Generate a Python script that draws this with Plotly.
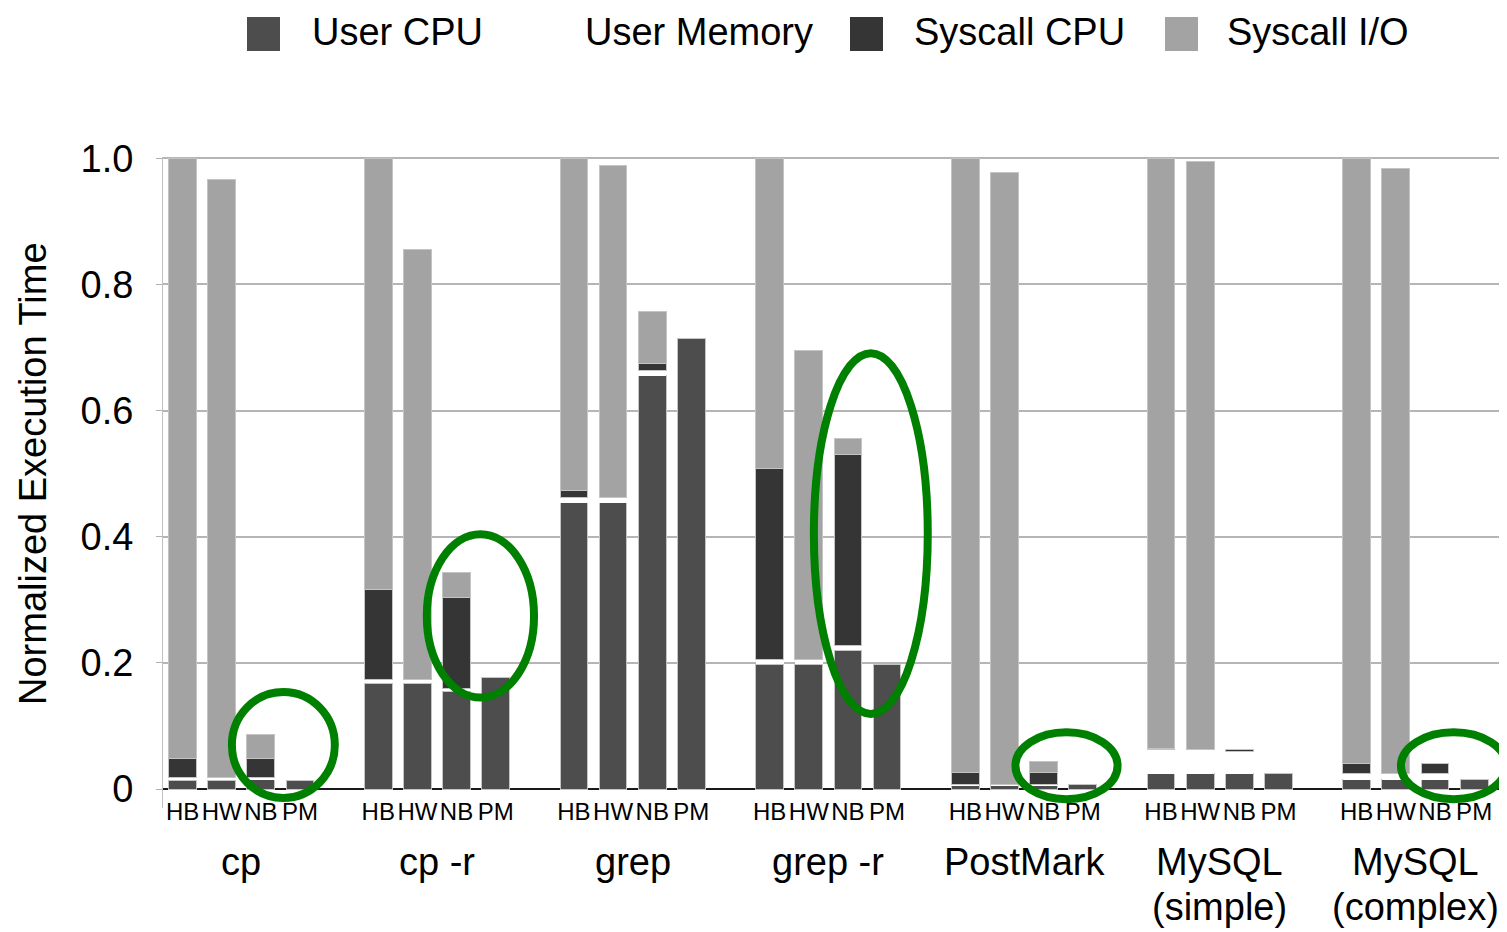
import plotly.graph_objects as go

groups = ["cp", "cp -r", "grep", "grep -r", "PostMark", "MySQL", "MySQL"]
group_sub = ["", "", "", "", "", "(simple)", "(complex)"]
configs = ["HB", "HW", "NB", "PM"]

# segment heights per group (HB, HW, NB, PM); None = segment not present
user_cpu = [
    [0.014, 0.014, 0.015, 0.013],
    [0.168, 0.168, 0.155, 0.177],
    [0.454, 0.454, 0.655, 0.714],
    [0.198, 0.198, 0.220, 0.198],
    [0.005, 0.005, 0.005, 0.008],
    [0.024, 0.024, 0.024, 0.024],
    [0.015, 0.015, 0.015, 0.015],
]
user_mem = [
    [0.004, 0.004, 0.003, None],
    [0.005, 0.005, 0.005, None],
    [0.009, 0.009, 0.009, None],
    [0.008, 0.008, 0.008, None],
    [0.003, 0.003, 0.003, None],
    [0.038, 0.038, 0.036, None],
    [0.010, 0.010, 0.010, None],
]
sys_cpu = [
    [0.030, None, 0.031, None],
    [0.143, None, 0.144, None],
    [0.010, None, 0.011, None],
    [0.302, None, 0.302, None],
    [0.018, None, 0.018, None],
    [0.003, None, 0.003, None],
    [0.016, None, 0.016, None],
]
sys_io = [
    [0.952, 0.949, 0.038, None],
    [0.684, 0.682, 0.040, None],
    [0.527, 0.525, 0.082, None],
    [0.492, 0.490, 0.026, None],
    [0.974, 0.970, 0.018, None],
    [0.935, 0.933, None, None],
    [0.959, 0.958, None, None],
]

# highlighted NB/PM regions: (group, x from, x to (relative to HB bar), y from, y to)
highlights = [
    (0, 1.26, 3.89, -0.014, 0.154),
    (1, 1.24, 3.98, 0.145, 0.404),
    (3, 1.13, 4.04, 0.119, 0.691),
    (4, 1.28, 3.89, -0.016, 0.090),
    (6, 1.13, 3.82, -0.016, 0.090),
]

FONT = "Liberation Sans, Arial, sans-serif"
W, H = 1507, 932
OFF = 8  # page body margin
ML, MR, MT, MB = 163 - OFF, OFF, 157 - OFF, 124 + OFF
SLOT = 5  # 4 bars + one empty slot per group


# screen pixel -> paper coordinates
def px(x):
    return (x - OFF - ML) / (W - ML - MR)


def py(y):
    return (H - MB - (y - OFF)) / (H - MT - MB)


xs = [g * SLOT + i for g in range(len(groups)) for i in range(len(configs))]
flat = lambda rows: [v for row in rows for v in row]

series = [
    ("User CPU", user_cpu, "#4d4d4d"),
    ("User Memory", user_mem, "white"),
    ("Syscall CPU", sys_cpu, "#353535"),
    ("Syscall I/O", sys_io, "#a3a3a3"),
]

fig = go.Figure()
for name, rows, color in series:
    fig.add_trace(go.Bar(
        x=xs, y=flat(rows), name=name, width=0.71,
        marker=dict(color=color,
                    line=dict(color="#c4c4c4", width=0 if color == "white" else 1)),
        showlegend=False,
    ))

# green ellipses around the NB/PM bars
for g, a, b, y0, y1 in highlights:
    fig.add_shape(type="circle", xref="x", yref="y",
                  x0=g * SLOT + a, x1=g * SLOT + b, y0=y0, y1=y1,
                  line=dict(color="#008000", width=8), layer="above")

# legend drawn by hand so the swatches can be large
legend_pos = [(247, 310), (520, 583), (850, 912), (1165, 1225)]
for (name, rows, color), (sx, tx) in zip(series, legend_pos):
    if color != "white":
        fig.add_shape(type="rect", xref="paper", yref="paper",
                      x0=px(sx), x1=px(sx + 33), y0=py(51), y1=py(17),
                      fillcolor=color, line=dict(width=0))
    fig.add_annotation(text=name, xref="paper", yref="paper", x=px(tx), y=py(32),
                       xanchor="left", yanchor="middle", showarrow=False,
                       font=dict(size=38, color="black"))

# group labels under the HB/HW/NB/PM ticks
for g, (name, sub) in enumerate(zip(groups, group_sub)):
    fig.add_annotation(text=name, xref="x", yref="paper", x=g * SLOT + 1.5, y=py(862),
                       xanchor="center", yanchor="middle", showarrow=False,
                       font=dict(size=38, color="black"))
    if sub:
        fig.add_annotation(text=sub, xref="x", yref="paper", x=g * SLOT + 1.5, y=py(907),
                           xanchor="center", yanchor="middle", showarrow=False,
                           font=dict(size=38, color="black"))

fig.add_annotation(text="Normalized Execution Time", xref="paper", yref="paper",
                   x=px(33), y=py(474), textangle=-90, xanchor="center", yanchor="middle",
                   showarrow=False, font=dict(size=38, color="black"))

fig.update_layout(
    width=W, height=H,
    margin=dict(l=ML, r=MR, t=MT, b=MB),
    barmode="stack",
    plot_bgcolor="white",
    paper_bgcolor="white",
    font=dict(family=FONT, color="black"),
    xaxis=dict(
        range=[-0.5, 33.84],
        tickmode="array",
        tickvals=xs,
        ticktext=configs * len(groups),
        tickfont=dict(size=24),
        tickangle=0,
        showgrid=False, zeroline=False, showline=False, ticks="",
        ticklabelstandoff=-13,
    ),
    yaxis=dict(
        range=[-0.03, 1.002],
        tickmode="array",
        tickvals=[0, 0.2, 0.4, 0.6, 0.8, 1.0],
        ticktext=["0", "0.2", "0.4", "0.6", "0.8", "1.0"],
        tickfont=dict(size=38),
        showgrid=True, gridcolor="#b5b5b5", gridwidth=2,
        zeroline=True, zerolinecolor="#1a1a1a", zerolinewidth=2,
        showline=True, linecolor="#c0c0c0", linewidth=1,
        ticks="outside", ticklen=6, tickcolor="#b0b0b0",
        ticklabelstandoff=15,
    ),
)

fig.write_html("out.html")
